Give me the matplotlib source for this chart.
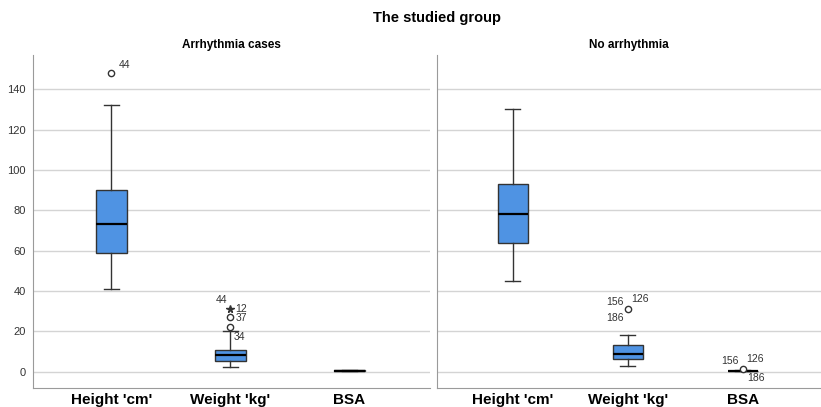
import matplotlib
matplotlib.use("Agg")
import matplotlib.pyplot as plt

plt.rcParams['font.family'] = ['Liberation Sans', 'DejaVu Sans']

groups = ["Arrhythmia cases", "No arrhythmia"]
variables = ["Height 'cm'", "Weight 'kg'", "BSA"]

# five-number summaries: whislo, q1, median, q3, whishi
arr_stats = [[41, 59, 73, 90, 132],
             [2.3, 5.1, 8.2, 11, 20],
             [0.2, 0.3, 0.5, 0.8, 1.1]]
no_stats = [[45, 64, 78, 93, 130],
            [2.7, 6.3, 8.8, 13.1, 18],
            [0.3, 0.4, 0.5, 0.6, 0.8]]

# outliers: (variable index, value, marker, case labels)
arr_out = [(0, 148, "o", ["44"]),
           (1, 31, "*", ["12", "44"]),
           (1, 27, "o", ["37"]),
           (1, 22, "o", ["34"])]
no_out = [(1, 31, "o", ["156", "126", "186"]),
          (2, 1.3, "o", ["156", "126", "186"])]

# where each case label sits next to its point, in pixels (dx, dy)
arr_lab_pos = [[(7, 8)],
               [(5, 0), (-15, 9)],
               [(5, -1)],
               [(3, -10)]]
no_lab_pos = [[(-22, 7), (3, 10), (-22, -9)],
              [(-22, 8), (3, 10), (4, -9)]]

box_color = "#4f93e3"
grid_color = "#d4d4d4"
spine_color = "#9a9a9a"
text_color = "#333333"

fig = plt.figure(figsize=(8.21, 4.07), dpi=100)
ax1 = fig.add_axes([0.040, 0.047, 0.484, 0.818])
ax2 = fig.add_axes([0.532, 0.047, 0.468, 0.818])

for ax, stats, outs, lab_pos, title in [(ax1, arr_stats, arr_out, arr_lab_pos, groups[0]),
                                        (ax2, no_stats, no_out, no_lab_pos, groups[1])]:
    bstats = []
    for s, name in zip(stats, variables):
        bstats.append(dict(whislo=s[0], q1=s[1], med=s[2], q3=s[3], whishi=s[4],
                           fliers=[], label=name))
    ax.bxp(bstats, positions=[1, 2, 3], widths=0.26, patch_artist=True,
           boxprops=dict(facecolor=box_color, edgecolor=text_color, linewidth=1.0),
           medianprops=dict(color="black", linewidth=1.6),
           whiskerprops=dict(color=text_color, linewidth=1.0),
           capprops=dict(color=text_color, linewidth=1.0),
           capwidths=0.13)
    for (i, v, m, labs), pos in zip(outs, lab_pos):
        if m == "o":
            ax.plot(i + 1, v, marker="o", markersize=4.5, markerfacecolor="white",
                    markeredgecolor=text_color, markeredgewidth=1.0, linestyle="none", zorder=4)
        else:
            ax.plot(i + 1, v, marker="*", markersize=5.5, color=text_color,
                    linestyle="none", zorder=4)
        for lab, (dx, dy) in zip(labs, pos):
            ax.annotate(lab, (i + 1, v), xytext=(dx, dy), textcoords="offset pixels",
                        ha="left", va="center", fontsize=7.5, color=text_color)

    ax.set_xlim(0.34, 3.68)
    ax.set_ylim(-8, 157)
    ax.set_yticks([0, 20, 40, 60, 80, 100, 120, 140])
    ax.yaxis.grid(True, color=grid_color, linewidth=1.0)
    ax.set_axisbelow(True)
    ax.set_title(title, fontsize=8.5, fontweight="bold", pad=5)
    for side in ["top", "right"]:
        ax.spines[side].set_visible(False)
    ax.spines["left"].set_color(spine_color)
    ax.spines["bottom"].set_color(spine_color)
    ax.tick_params(axis="both", length=0)
    ax.tick_params(axis="y", labelsize=8, colors=text_color, pad=5)
    ax.set_xticks([1, 2, 3])
    ax.set_xticklabels(variables, fontsize=11, fontweight="bold")
    ax.tick_params(axis="x", pad=4)

ax2.tick_params(axis="y", labelleft=False)

fig.text(0.532, 0.955, "The studied group", ha="center", va="center",
         fontsize=10.5, fontweight="bold")

fig.savefig("out.png", dpi=100)
